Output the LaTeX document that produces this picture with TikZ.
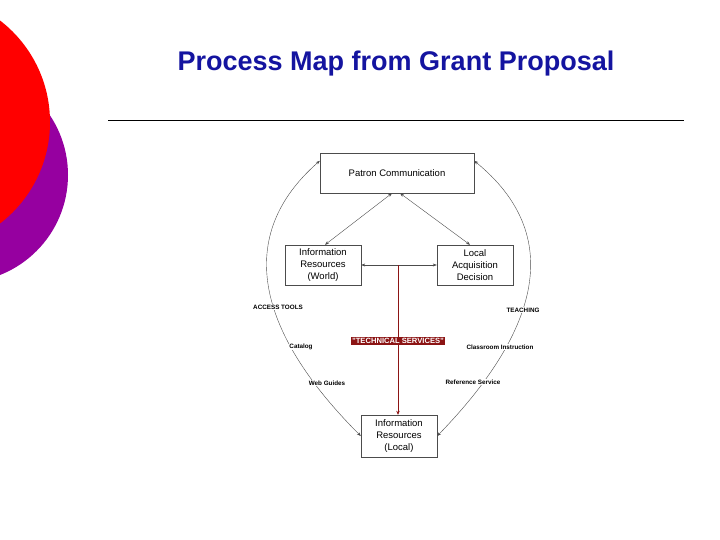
\documentclass[tikz,border=0pt]{standalone}
\usepackage{fontspec}
\setmainfont{Liberation Sans}
\usetikzlibrary{arrows.meta,shadows}
\definecolor{ttl}{RGB}{20,20,160}
\definecolor{pur}{RGB}{150,0,160}
\definecolor{dred}{RGB}{140,20,20}
\tikzset{
 box/.style={draw=black!70,fill=white,drop shadow={opacity=0.35,shadow xshift=1pt,shadow yshift=-1pt},align=center,font=\fontsize{9.5}{12}\selectfont,inner sep=0pt},
 lab/.style={font=\fontsize{6.3}{7}\selectfont\bfseries,fill=white,inner sep=0.5pt},
 con/.style={draw=black!70,line width=0.4pt,{Stealth[length=4pt,width=3pt]}-{Stealth[length=4pt,width=3pt]}},
 one/.style={draw=black!70,line width=0.4pt,-{Stealth[length=4pt,width=3pt]}}
}
\begin{document}
\begin{tikzpicture}[x=1pt,y=-1pt]
\useasboundingbox (0,0) rectangle (720,540);
\fill[white] (0,0) rectangle (720,540);
\begin{scope}
\clip (0,0) rectangle (720,540);
\fill[pur] (-39.5,175) circle (107.5);
\fill[red] (-78,122) circle (128);
\end{scope}
\node[text=ttl,font=\fontsize{27}{30}\selectfont\bfseries] (title) at (396,64) {Process Map from Grant Proposal};
\draw[line width=0.6pt] (108,120) -- (684,120);
\node[box,minimum width=154pt,minimum height=40pt] (pc) at (397,173) {Patron Communication};
\node[box,minimum width=76pt,minimum height=40pt] (iw) at (323,265) {Information\\Resources\\(World)};
\node[box,minimum width=76pt,minimum height=40pt] (la) at (475,265) {Local\\Acquisition\\Decision};
\node[box,minimum width=76pt,minimum height=42pt] (il) at (399,436) {Information\\Resources\\(Local)};
\coordinate (j) at (398,265);
\draw[con] ([xshift=-5pt]pc.south) -- ([xshift=2pt]iw.north);
\draw[con] ([xshift=3pt]pc.south) -- ([xshift=-5pt]la.north);
\draw[one] (j) -- (iw.east);
\draw[one] (j) -- (la.west);
\draw[draw=dred,line width=0.5pt,-{Stealth[length=4pt,width=3.5pt]}] (j) -- (il.north -| j);
\node[fill=dred,text=white,font=\fontsize{7.6}{8}\selectfont\bfseries,inner sep=1pt] (ts) at (398,341) {"TECHNICAL SERVICES"};
\draw[con] ([yshift=-8pt]pc.north west) .. controls (235,235) and (255,330) .. (il.west);
\draw[con] ([yshift=-8pt]pc.north east) .. controls (565,235) and (540,330) .. (il.east);
\node[lab] (at) at (278,307) {ACCESS TOOLS};
\node[lab] (ca) at (301,347) {Catalog};
\node[lab] (wg) at (327,383) {Web Guides};
\node[lab] (te) at (523,310) {TEACHING};
\node[lab] (ci) at (500,347) {Classroom Instruction};
\node[lab] (rs) at (473,382) {Reference Service};
\end{tikzpicture}
\end{document}
